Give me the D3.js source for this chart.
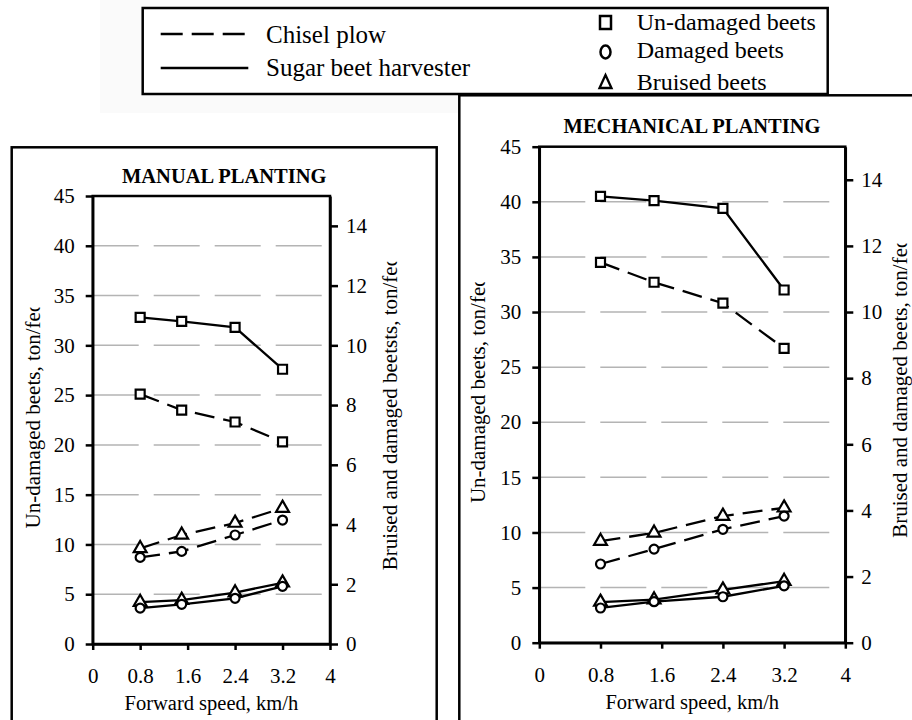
<!DOCTYPE html>
<meta charset="utf-8">
<style>
body { margin: 0; background: #fff; }
text { font-family: "Liberation Serif", "Times New Roman", serif; fill: #000; }
.grid line { stroke: #b4b4b4; stroke-width: 1.5; stroke-dasharray: 46,15; }
.axis path, .axis line { stroke: #000; stroke-width: 2.5; }
</style>
<body>
<script src="https://d3js.org/d3.v7.min.js"></script>
<script>
// values
var speeds = [0.8, 1.5, 2.4, 3.2];
var xTicks = [0, 0.8, 1.6, 2.4, 3.2, 4];
var leftTicks = [0, 5, 10, 15, 20, 25, 30, 35, 40, 45];
var rightTicks = [0, 2, 4, 6, 8, 10, 12, 14];

// manual planting: un-damaged on left axis, bruised / damaged on right axis
var manualChiselUndamaged = [25.1, 23.5, 22.3, 20.3];
var manualHarvUndamaged   = [32.8, 32.4, 31.8, 27.6];
var manualChiselBruised   = [3.2, 3.65, 4.05, 4.55];
var manualChiselDamaged   = [2.9, 3.1, 3.65, 4.15];
var manualHarvBruised     = [1.4, 1.47, 1.72, 2.05];
var manualHarvDamaged     = [1.2, 1.33, 1.53, 1.93];

// mechanical planting
var mechChiselUndamaged = [34.5, 32.7, 30.8, 26.7];
var mechHarvUndamaged   = [40.5, 40.1, 39.4, 32.0];
var mechChiselBruised   = [3.07, 3.32, 3.83, 4.08];
var mechChiselDamaged   = [2.38, 2.83, 3.43, 3.83];
var mechHarvBruised     = [1.23, 1.3, 1.6, 1.86];
var mechHarvDamaged     = [1.05, 1.24, 1.39, 1.72];

var serif = "'Liberation Serif', 'Times New Roman', serif";

var svg = d3.select("body").append("svg")
    .attr("width", 912)
    .attr("height", 720);
var defs = svg.append("defs");
var clipCount = 0;

// faint backdrop behind the legend
svg.append("rect").attr("x", 100).attr("y", 0).attr("width", 360).attr("height", 113)
    .attr("fill", "#fafafa");

function sideLabel(cx, cy, txt) {
  var g = svg.append("g");
  var t = g.append("text")
      .attr("transform", "translate(" + cx + "," + cy + ") rotate(-90)")
      .attr("text-anchor", "middle")
      .attr("dy", "0.35em")
      .attr("font-size", 21)
      .text(txt);
  var len = t.node().getComputedTextLength();
  // the end of the title is cut off in the original
  var id = "clip" + (clipCount++);
  defs.append("clipPath").attr("id", id).append("rect")
      .attr("x", cx - 20).attr("y", cy - len / 2 + 6)
      .attr("width", 40).attr("height", len);
  g.attr("clip-path", "url(#" + id + ")");
}

function marker(shape, size) {
  if (shape == "square") return d3.symbol().type(d3.symbolSquare).size(size * size)();
  if (shape == "circle") return d3.symbol().type(d3.symbolCircle).size(Math.PI * size * size / 4)();
  return d3.symbol().type(d3.symbolTriangle).size(size * size * 0.5)();
}

function drawPanel(p, series) {
  var x = d3.scaleLinear().domain([0, 4]).range([p.left, p.right]);
  var yL = d3.scaleLinear().domain([0, 45]).range([p.bottom, p.top]);
  var yR = d3.scaleLinear().domain([0, 15]).range([p.bottom, p.top]);

  // panel frame
  svg.append("rect")
      .attr("x", p.boxX).attr("y", p.boxY)
      .attr("width", p.boxW).attr("height", p.boxH)
      .attr("fill", "#fff").attr("stroke", "#000").attr("stroke-width", 2.5);

  svg.append("text")
      .attr("x", p.boxX + p.boxW / 2).attr("y", p.titleY)
      .attr("text-anchor", "middle")
      .attr("font-size", 20.5).attr("font-weight", "bold")
      .text(p.title);

  // gridlines
  svg.append("g").attr("class", "grid")
    .selectAll("line")
    .data(leftTicks.filter(function(d) { return d > 0 && d < 45; }))
    .enter().append("line")
      .attr("x1", p.left).attr("x2", p.right)
      .attr("y1", function(d) { return yL(d); })
      .attr("y2", function(d) { return yL(d); });

  // plot border
  svg.append("rect")
      .attr("x", p.left).attr("y", p.top)
      .attr("width", p.right - p.left).attr("height", p.bottom - p.top)
      .attr("fill", "none").attr("stroke", "#000").attr("stroke-width", 2.5);

  // axes
  svg.append("g").attr("class", "axis")
      .attr("transform", "translate(" + p.left + ",0)")
      .call(d3.axisLeft(yL).tickValues(leftTicks).tickSize(7).tickSizeOuter(0).tickPadding(11).tickFormat(String))
      .attr("font-size", 21).attr("font-family", serif);
  svg.append("g").attr("class", "axis")
      .attr("transform", "translate(" + p.right + ",0)")
      .call(d3.axisRight(yR).tickValues(rightTicks).tickSize(8).tickSizeOuter(0).tickPadding(8).tickFormat(String))
      .attr("font-size", 21).attr("font-family", serif);
  svg.append("g").attr("class", "axis")
      .attr("transform", "translate(0," + p.bottom + ")")
      .call(d3.axisBottom(x).tickValues(xTicks).tickSize(6).tickSizeOuter(0).tickPadding(18).tickFormat(String))
      .attr("font-size", 21).attr("font-family", serif);

  svg.append("text")
      .attr("x", (p.left + p.right) / 2).attr("y", p.bottom + 66)
      .attr("text-anchor", "middle").attr("font-size", 20.5)
      .text("Forward speed, km/h");

  sideLabel(p.leftLabelX, (p.top + p.bottom) / 2 - 5, "Un-damaged beets, ton/fed");
  sideLabel(p.rightLabelX, (p.top + p.bottom) / 2 - 7, p.rightLabel);

  // series lines then markers
  series.forEach(function(s) {
    var y = s.axis == "left" ? yL : yR;
    var pts = speeds.map(function(v, i) { return [v, s.values[i]]; });
    svg.append("path")
        .datum(pts)
        .attr("fill", "none").attr("stroke", "#000").attr("stroke-width", 2.3)
        .attr("stroke-dasharray", s.dashed ? "20,9" : null)
        .attr("d", d3.line().x(function(d) { return x(d[0]); }).y(function(d) { return y(d[1]); }));
  });
  series.forEach(function(s) {
    var y = s.axis == "left" ? yL : yR;
    var pts = speeds.map(function(v, i) { return [v, s.values[i]]; });
    svg.append("g").selectAll("path")
      .data(pts)
      .enter().append("path")
        .attr("transform", function(d) { return "translate(" + x(d[0]) + "," + y(d[1]) + ")"; })
        .attr("d", marker(s.shape, s.shape == "triangle" ? 12 : 9))
        .attr("fill", "#fff").attr("stroke", "#000").attr("stroke-width", 2.2);
  });
}

drawPanel({
  title: "MANUAL PLANTING",
  boxX: 11.7, boxY: 147.3, boxW: 425, boxH: 640,
  left: 92.7, right: 330, top: 196, bottom: 644,
  titleY: 183,
  leftLabelX: 33, rightLabelX: 390,
  rightLabel: "Bruised and damaged beetsts, ton/fed"
}, [
  {values: manualChiselUndamaged, axis: "left", dashed: true, shape: "square"},
  {values: manualHarvUndamaged, axis: "left", dashed: false, shape: "square"},
  {values: manualChiselBruised, axis: "right", dashed: true, shape: "triangle"},
  {values: manualChiselDamaged, axis: "right", dashed: true, shape: "circle"},
  {values: manualHarvBruised, axis: "right", dashed: false, shape: "triangle"},
  {values: manualHarvDamaged, axis: "right", dashed: false, shape: "circle"}
]);

drawPanel({
  title: "MECHANICAL PLANTING",
  boxX: 459.3, boxY: 95.3, boxW: 465.4, boxH: 700,
  left: 539.3, right: 845.3, top: 146.7, bottom: 642.7,
  titleY: 132.7,
  leftLabelX: 478, rightLabelX: 900,
  rightLabel: "Bruised and damaged beets, ton/fed"
}, [
  {values: mechChiselUndamaged, axis: "left", dashed: true, shape: "square"},
  {values: mechHarvUndamaged, axis: "left", dashed: false, shape: "square"},
  {values: mechChiselBruised, axis: "right", dashed: true, shape: "triangle"},
  {values: mechChiselDamaged, axis: "right", dashed: true, shape: "circle"},
  {values: mechHarvBruised, axis: "right", dashed: false, shape: "triangle"},
  {values: mechHarvDamaged, axis: "right", dashed: false, shape: "circle"}
]);

// legend
var legend = svg.append("g");
legend.append("rect")
    .attr("x", 142.7).attr("y", 8).attr("width", 685).attr("height", 86)
    .attr("fill", "#fff").attr("stroke", "#000").attr("stroke-width", 2.5);
legend.append("line")
    .attr("x1", 160.7).attr("x2", 248.3).attr("y1", 34).attr("y2", 34)
    .attr("stroke", "#000").attr("stroke-width", 2.5).attr("stroke-dasharray", "22,9");
legend.append("line")
    .attr("x1", 160.7).attr("x2", 248.3).attr("y1", 68).attr("y2", 68)
    .attr("stroke", "#000").attr("stroke-width", 2.5);
legend.append("text").attr("x", 266).attr("y", 43).attr("font-size", 25).text("Chisel plow");
legend.append("text").attr("x", 266).attr("y", 76).attr("font-size", 25).text("Sugar beet harvester");

legend.append("rect").attr("x", 600).attr("y", 16).attr("width", 11).attr("height", 13)
    .attr("fill", "none").attr("stroke", "#000").attr("stroke-width", 2.5);
legend.append("ellipse").attr("cx", 605.5).attr("cy", 52).attr("rx", 5).attr("ry", 6.5)
    .attr("fill", "none").attr("stroke", "#000").attr("stroke-width", 2.5);
legend.append("path").attr("d", "M605.5,75L611.5,88L599.5,88Z")
    .attr("fill", "none").attr("stroke", "#000").attr("stroke-width", 2.3);
legend.append("text").attr("x", 636.7).attr("y", 30).attr("font-size", 24).text("Un-damaged beets");
legend.append("text").attr("x", 636.7).attr("y", 58).attr("font-size", 24).text("Damaged beets");
legend.append("text").attr("x", 636.7).attr("y", 90).attr("font-size", 24).text("Bruised beets");
</script>
</body>
